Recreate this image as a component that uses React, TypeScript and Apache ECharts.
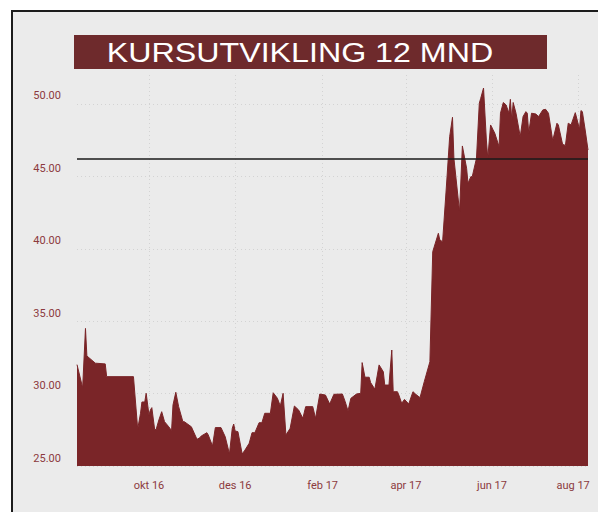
import React, { useEffect, useRef } from "react";
import * as echarts from "echarts";

const dates = [
  "2016-08-11","2016-08-15","2016-08-17","2016-08-18","2016-08-24","2016-08-31","2016-09-01","2016-09-20",
  "2016-09-23","2016-09-25","2016-09-26","2016-09-28","2016-09-29","2016-10-01","2016-10-02","2016-10-03",
  "2016-10-05","2016-10-06","2016-10-08","2016-10-10","2016-10-12","2016-10-15","2016-10-17","2016-10-18",
  "2016-10-20","2016-10-22","2016-10-25","2016-10-26","2016-10-31","2016-11-04","2016-11-06","2016-11-07",
  "2016-11-11","2016-11-12","2016-11-15","2016-11-17","2016-11-21","2016-11-24","2016-11-27","2016-11-29",
  "2016-11-30","2016-12-01","2016-12-03","2016-12-06","2016-12-08","2016-12-11","2016-12-13","2016-12-15",
  "2016-12-18","2016-12-20","2016-12-22","2016-12-26","2016-12-28","2016-12-31","2017-01-02","2017-01-04",
  "2017-01-06","2017-01-09","2017-01-12","2017-01-15","2017-01-18","2017-01-20","2017-01-25","2017-01-27",
  "2017-01-30","2017-02-03","2017-02-06","2017-02-09","2017-02-15","2017-02-17","2017-02-19","2017-02-21",
  "2017-02-25","2017-02-28","2017-03-01","2017-03-03","2017-03-06","2017-03-07","2017-03-10","2017-03-13",
  "2017-03-16","2017-03-17","2017-03-20","2017-03-22","2017-03-23","2017-03-26","2017-03-27","2017-03-29",
  "2017-03-31","2017-04-03","2017-04-06","2017-04-08","2017-04-11","2017-04-14","2017-04-18","2017-04-20",
  "2017-04-24","2017-04-25","2017-04-27","2017-04-30","2017-05-02","2017-05-04","2017-05-05","2017-05-09",
  "2017-05-11","2017-05-14","2017-05-15","2017-05-17","2017-05-18","2017-05-21","2017-05-23","2017-05-24",
  "2017-05-26","2017-05-28","2017-05-29","2017-05-31","2017-06-03","2017-06-06","2017-06-07","2017-06-09",
  "2017-06-11","2017-06-13","2017-06-14","2017-06-15","2017-06-16","2017-06-18","2017-06-21","2017-06-23",
  "2017-06-25","2017-06-26","2017-06-27","2017-06-29","2017-07-02","2017-07-04","2017-07-07","2017-07-09",
  "2017-07-11","2017-07-14","2017-07-17","2017-07-18","2017-07-21","2017-07-23","2017-07-25","2017-07-27",
  "2017-07-30","2017-08-02","2017-08-03","2017-08-04","2017-08-06","2017-08-08",
];

const prices = [
  32.0, 30.4, 34.5, 32.6, 32.1, 32.05, 31.17, 31.17,
  27.55, 28.64, 29.42, 29.42, 30.02, 28.52, 28.87, 29.03,
  27.53, 27.5, 28.18, 28.75, 28.06, 27.71, 27.44, 29.21,
  30.09, 29.1, 28.06, 28.06, 27.71, 26.84, 26.95, 27.07,
  27.3, 27.14, 26.38, 27.65, 27.65, 27.02, 25.83, 27.6,
  27.9, 27.42, 27.37, 25.83, 26.1, 26.57, 27.3, 27.3,
  27.99, 27.99, 28.64, 28.64, 30.06, 29.67, 29.14, 30.02,
  27.14, 27.6, 29.14, 28.87, 28.29, 29.1, 29.1, 28.29,
  29.97, 29.9, 29.28, 29.95, 29.97, 29.44, 28.8, 29.67,
  29.97, 30.02, 32.14, 31.13, 31.13, 30.76, 30.3, 31.98,
  31.51, 30.59, 30.59, 33.01, 30.13, 30.13, 29.9, 29.33,
  29.6, 29.28, 30.13, 29.95, 29.72, 30.82, 32.2, 39.8,
  41.07, 40.61, 40.49, 44.75, 47.74, 49.08, 46.25, 42.56,
  47.1, 45.56, 44.52, 44.98, 44.98, 46.25, 50.05, 50.39,
  51.1, 47.51, 46.25, 48.55, 47.97, 47.05, 49.36, 50.1,
  49.93, 49.36, 50.32, 48.9, 50.1, 49.36, 47.74, 49.13,
  49.47, 49.36, 47.97, 49.36, 49.31, 49.13, 49.59, 49.63,
  49.36, 47.47, 48.67, 48.55, 47.21, 47.14, 48.67, 48.55,
  49.4, 48.25, 49.54, 49.47, 48.2, 46.82,
];

const xTickDates = ["2016-10-01", "2016-12-01", "2017-02-01", "2017-04-01", "2017-06-01", "2017-08-01"];
const xTickLabels = ["okt 16", "des 16", "feb 17", "apr 17", "jun 17", "aug 17"];
const yTicks = [25, 30, 35, 40, 45, 50];
const referenceLevel = 46.2;
const titleText = "KURSUTVIKLING 12 MND";

const xMin = "2016-08-11";
const xMax = "2017-08-08";

function toTs(s: string): number {
  const [y, m, d] = s.split("-").map(Number);
  return new Date(y, m - 1, d).getTime();
}

const AREA = "#7a2528";
const LABEL = "#8c3a3e";
const GRID = "#d3d3d3";
const FONT = "Roboto, 'DejaVu Sans Condensed', sans-serif";

export default function App() {
  const ref = useRef<HTMLDivElement>(null);

  useEffect(() => {
    if (!ref.current) return;
    const chart = echarts.init(ref.current, null, { renderer: "svg" });
    const tickTs = xTickDates.map(toTs);
    const data = dates.map((d, i) => [toTs(d), prices[i]]);

    chart.setOption({
      animation: false,
      backgroundColor: "transparent",
      grid: { left: 77, right: 10, top: 75, bottom: 46, outerBoundsMode: "none", containLabel: false },
      graphic: [
        {
          type: "rect",
          shape: { x: 74, y: 35, width: 473, height: 34 },
          style: { fill: "#6e2a2c" },
          z: 10,
        },
        {
          type: "text",
          x: 300,
          y: 52,
          scaleX: 1.15,
          style: {
            text: titleText,
            fill: "#ffffff",
            font: "28px 'Liberation Sans', Arial, sans-serif",
            textAlign: "center",
            textVerticalAlign: "middle",
          },
          z: 11,
        },
      ],
      xAxis: {
        type: "value",
        min: toTs(xMin),
        max: toTs(xMax),
        axisLine: { show: false },
        axisTick: { show: false, customValues: tickTs },
        splitLine: { show: true, lineStyle: { color: GRID, type: [1, 3], width: 1 } },
        axisLabel: {
          customValues: tickTs,
          margin: 14,
          color: LABEL,
          fontFamily: FONT,
          fontSize: 11,
          formatter: (val: number) => {
            const idx = tickTs.indexOf(val);
            const lab = idx >= 0 ? xTickLabels[idx] : "";
            return idx === tickTs.length - 1 ? "{e|" + lab + "}" : lab;
          },
          rich: {
            e: { padding: [0, 10, 0, 0], color: LABEL, fontFamily: FONT, fontSize: 11 },
          },
        },
      },
      yAxis: {
        type: "value",
        min: 25,
        max: 52,
        axisLine: { show: false },
        axisTick: { show: false, customValues: yTicks },
        splitLine: { show: true, lineStyle: { color: GRID, type: [1, 3], width: 1 } },
        axisLabel: {
          customValues: yTicks,
          margin: 16,
          color: LABEL,
          fontFamily: FONT,
          fontSize: 11,
          verticalAlign: "bottom",
          lineHeight: 16,
          formatter: (v: number) => v.toFixed(2),
        },
      },
      series: [
        {
          type: "line",
          data,
          showSymbol: false,
          symbol: "none",
          lineStyle: { color: AREA, width: 1 },
          itemStyle: { color: AREA },
          areaStyle: { color: AREA, opacity: 1 },
          silent: true,
          markLine: {
            silent: true,
            symbol: "none",
            label: { show: false },
            lineStyle: { color: "#1a1a1a", width: 1.5, type: "solid" },
            data: [{ yAxis: referenceLevel }],
          },
        },
      ],
    });

    return () => chart.dispose();
  }, []);

  return (
    <div style={{ position: "fixed", left: 0, top: 0, width: 598, height: 512, background: "#ffffff", overflow: "hidden" }}>
      <div
        style={{
          position: "absolute",
          left: 11,
          top: 10,
          width: 620,
          height: 540,
          background: "#ebebeb",
          borderLeft: "2px solid #1c1c1c",
          borderTop: "2px solid #1c1c1c",
        }}
      />
      <div ref={ref} style={{ position: "absolute", left: 0, top: 0, width: 598, height: 512 }} />
    </div>
  );
}
